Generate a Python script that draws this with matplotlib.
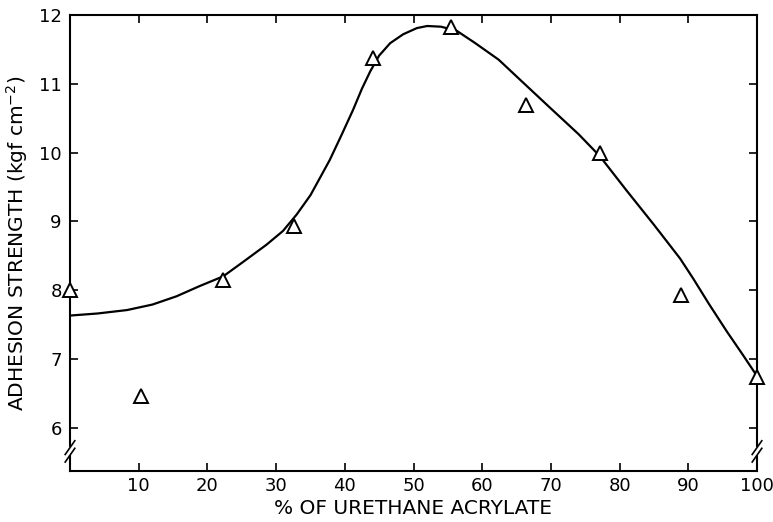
import matplotlib
matplotlib.use("Agg")
import matplotlib.pyplot as plt

plt.rcParams['font.family'] = ['DejaVu Sans']
plt.rcParams['mathtext.default'] = 'regular'

# measured points (open triangles)
pct = [0, 10.3, 22.2, 32.6, 44.1, 55.4, 66.4, 77.2, 88.9, 100]
strength = [8.0, 6.46, 8.15, 8.93, 11.37, 11.83, 10.69, 10.0, 7.93, 6.73]

# hand-drawn fitted curve
curve_x = [0, 4, 8.3, 12, 15.5, 18.9, 22.3, 25.2, 28.6, 31, 33, 35, 36.1, 37.8,
           39.5, 41.2, 42.5, 43.7, 45, 46.6, 48.5, 50.5, 52, 54, 56.3, 59, 62.4,
           65.5, 70, 74, 77.1, 81, 85, 88.8, 90.7, 93, 95.6, 98, 100]
curve_y = [7.63, 7.66, 7.71, 7.79, 7.91, 8.06, 8.2, 8.41, 8.66, 8.86, 9.1, 9.38,
           9.58, 9.89, 10.25, 10.62, 10.93, 11.18, 11.41, 11.59, 11.72, 11.81,
           11.84, 11.83, 11.77, 11.59, 11.35, 11.06, 10.64, 10.27, 9.95, 9.45,
           8.95, 8.46, 8.17, 7.8, 7.4, 7.05, 6.75]

xticks = [10, 20, 30, 40, 50, 60, 70, 80, 90, 100]
yticks = [6, 7, 8, 9, 10, 11, 12]

fig = plt.figure(figsize=(7.73, 5.22), dpi=100)
ax = fig.add_axes([70 / 773, 51 / 522, 687 / 773, 456 / 522])

ax.plot(curve_x, curve_y, color='black', lw=1.6, zorder=2,
        solid_joinstyle='round')
ax.plot(pct, strength, linestyle='none', marker='^', markersize=10,
        markerfacecolor='white', markeredgecolor='black', markeredgewidth=1.4,
        clip_on=False, zorder=3)

ax.set_xlim(0, 100)
ax.set_ylim(5.37, 12)
ax.set_xticks(xticks)
ax.set_yticks(yticks)
ax.tick_params(direction='in', length=6, width=1.2, labelsize=13,
               top=True, right=True)
ax.tick_params(axis='x', pad=4)
ax.tick_params(axis='y', pad=6)
for s in ax.spines.values():
    s.set_linewidth(1.5)

# axis break marks
for xb in (0, 100):
    for yb in (5.60, 5.71):
        ax.plot([xb - 0.7, xb + 0.7], [yb - 0.1, yb + 0.1], color='black',
                lw=1.2, clip_on=False, zorder=4)
    ax.plot([xb, xb], [5.625, 5.685], color='white', lw=3, clip_on=False,
            zorder=3.5)

ax.set_xlabel('% OF URETHANE ACRYLATE', fontsize=14.5, labelpad=3)
ax.set_ylabel('ADHESION STRENGTH (kgf cm$^{-2}$)', fontsize=14.5, labelpad=6)

fig.savefig('out.png', dpi=100)
